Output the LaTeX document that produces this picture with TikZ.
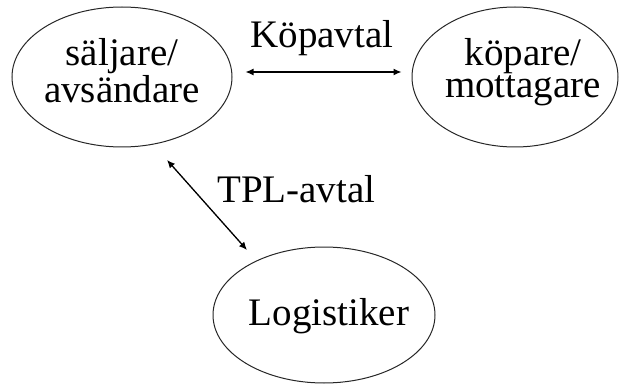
\documentclass[tikz,border=0pt]{standalone}
\usepackage{fontspec}
\setmainfont{Liberation Serif}
\usetikzlibrary{shapes.geometric,arrows.meta}
\begin{document}
\begin{tikzpicture}[x=1pt,y=-1pt,
  oval/.style={draw=black!85, line width=1pt, ellipse, inner sep=0pt},
  txt/.style={font=\fontsize{39}{32}\selectfont, align=center, inner sep=0pt},
  link/.style={line width=1.3pt, {Latex[length=8pt,width=7pt]}-{Latex[length=8pt,width=7pt]}}]
\useasboundingbox (0,0) rectangle (621,385);
\node[oval, minimum width=220pt, minimum height=140pt] (s) at (122,77) {};
\node[txt] (st) at (122,70.8) {säljare/\\avsändare};
\node[oval, minimum width=206pt, minimum height=140pt] (k) at (515,77) {};
\node[txt] (kt) at (523,72) {köpare/\\mottagare};
\node[oval, minimum width=222pt, minimum height=136pt] (l) at (324,315) {};
\node[txt] (lt) at (329,316) {Logistiker};
\node[txt, anchor=base] (kop) at (322,48) {Köpavtal};
\node[txt, anchor=base west] (tpl) at (217,202) {TPL-avtal};
\draw[link] ([shift={(13,-5)}]s.east) -- ([shift={(-10,-5)}]k.west);
\coordinate (a) at (167,160);
\coordinate (b) at (247,250);
\draw[link] (a) -- (b);
\end{tikzpicture}
\end{document}
